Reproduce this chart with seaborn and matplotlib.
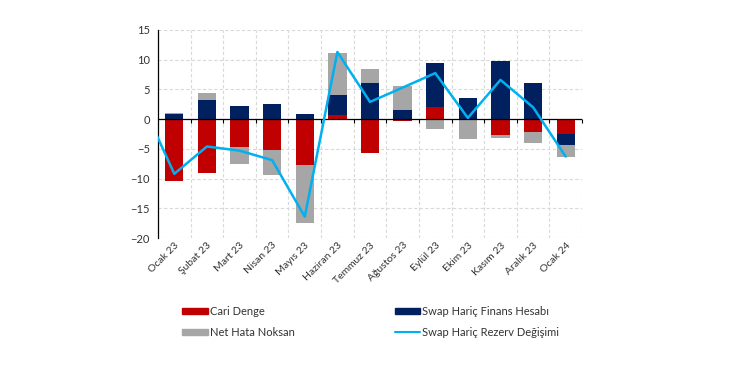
import numpy as np
import pandas as pd
import matplotlib
matplotlib.use("Agg")
import matplotlib.pyplot as plt
import seaborn as sns
from matplotlib.patches import Patch
from matplotlib.lines import Line2D

months = ["Ocak 23", "Şubat 23", "Mart 23", "Nisan 23", "Mayıs 23", "Haziran 23",
          "Temmuz 23", "Ağustos 23", "Eylül 23", "Ekim 23", "Kasım 23", "Aralık 23", "Ocak 24"]
cari_denge = [-10.4, -9.1, -4.7, -5.2, -7.75, 0.73, -5.7, -0.34, 1.97, 0.0, -2.75, -2.2, -2.5]
finans_hesabi = [0.85, 3.26, 2.2, 2.5, 0.85, 3.27, 6.0, 1.57, 7.43, 3.6, 9.83, 6.07, -1.8]
net_hata = [0.15, 1.14, -2.8, -4.2, -9.65, 7.2, 2.4, 3.99, -1.7, -3.3, -0.35, -1.8, -2.0]
# reserve change incl. previous month (Aralık 22), which lies just outside the axis
rezerv_prev = 2.8
rezerv = [-9.2, -4.6, -5.3, -6.9, -16.4, 11.3, 2.9, 5.3, 7.75, 0.2, 6.6, 2.0, -6.3]

names = ["Cari Denge", "Swap Hariç Finans Hesabı", "Net Hata Noksan"]
colors = ["#C00000", "#002060", "#A6A6A6"]
line_color = "#00B0F0"
line_name = "Swap Hariç Rezerv Değişimi"

sns.set_style("white")
plt.rcParams["font.family"] = ["Lato", "DejaVu Sans"]

fig = plt.figure(figsize=(7.5, 3.75), dpi=100)
ax = fig.add_axes([158/750, 1 - 238/375, (582-158)/750, 208/375])

# stacked bars: positive and negative stacks separately; draw cumulative totals back-to-front
series = np.array([cari_denge, finans_hesabi, net_hata])
pos = np.where(series > 0, series, 0).cumsum(axis=0)
neg = np.where(series < 0, series, 0).cumsum(axis=0)
tops = np.where(series >= 0, pos, neg)
for i in reversed(range(3)):
    df = pd.DataFrame({"month": months, "value": tops[i]})
    sns.barplot(data=df, x="month", y="value", color=colors[i], width=0.56,
                saturation=1, ax=ax, edgecolor=colors[i], linewidth=0, zorder=2)

xline = np.arange(-1, len(months))
dfl = pd.DataFrame({"x": xline, "y": [rezerv_prev] + rezerv})
sns.lineplot(data=dfl, x="x", y="y", color=line_color, lw=1.8, ax=ax, zorder=4)

ax.set_xlim(-0.5, len(months) - 0.5)
ax.set_ylim(-20, 15)
ax.set_yticks(np.arange(-20, 16, 5))
ax.set_xlabel("")
ax.set_ylabel("")

# grid
for y in np.arange(-20, 16, 5):
    ax.axhline(y, color="#D9D9D9", lw=0.8, ls=(0, (3, 2)), zorder=0)
for xb in np.arange(-0.5, len(months), 1.0)[1:]:
    ax.axvline(xb, color="#D9D9D9", lw=0.8, ls=(0, (3, 2)), zorder=0)

ax.axhline(0, color="black", lw=0.9, zorder=3)
sec = ax.secondary_xaxis(20/35)
sec.set_xticks(np.arange(0.5, len(months), 1.0))
sec.set_xticklabels([])
sec.xaxis.set_ticks_position("bottom")
sec.tick_params(axis="x", length=3, width=0.8, color="black", direction="out",
                bottom=True, top=False, labelbottom=False, labeltop=False)
for s in sec.spines.values():
    s.set_visible(False)

for s in ["top", "right", "bottom"]:
    ax.spines[s].set_visible(False)
ax.spines["left"].set_color("black")
ax.spines["left"].set_linewidth(0.9)

ax.tick_params(axis="y", length=0, labelsize=8, pad=6, colors="#333333")
ax.tick_params(axis="x", length=0, labelsize=7.5, pad=2, colors="#333333")
ax.set_xticks(range(len(months)))
ax.set_xticklabels(months, rotation=45, ha="right", rotation_mode="anchor")

handles = [Patch(color=colors[0], label=names[0]),
           Patch(color=colors[2], label=names[2]),
           Patch(color=colors[1], label=names[1]),
           Line2D([0], [0], color=line_color, lw=1.5, label=line_name)]
fig.legend(handles=handles, ncol=2, loc="upper left", bbox_to_anchor=(172/750, 1 - 296/375),
           frameon=False, fontsize=8, handlelength=2.3, handleheight=0.5,
           columnspacing=9.0, labelspacing=0.9, handletextpad=0.2, labelcolor="#333333")

fig.savefig("out.png", dpi=100)
